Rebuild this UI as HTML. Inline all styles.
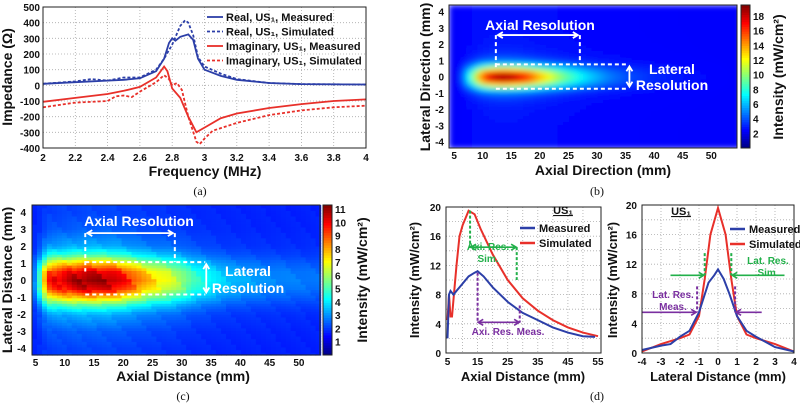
<!DOCTYPE html>
<html><head><meta charset="utf-8"><style>
body{margin:0;background:#fff}
svg{display:block;font-family:"Liberation Sans",sans-serif}
.t{font-size:10px;font-weight:bold;fill:#111}
.ti{font-size:14px;font-weight:bold;fill:#111}
.cap{font-family:"Liberation Serif",serif;font-size:12px;fill:#111}
</style></head><body>
<svg id="s" width="800" height="405" viewBox="0 0 800 405">
<defs><filter id="bl" x="-5%" y="-5%" width="110%" height="110%"><feGaussianBlur stdDeviation="3"/></filter>
<clipPath id="cb"><rect x="449" y="5" width="288" height="143"/></clipPath></defs>
</svg>
<script>
// ---- data panel (a)
const aRealMeasX=[2,2.2,2.4,2.5,2.6,2.7,2.75,2.78,2.8,2.82,2.85,2.9,2.93,2.96,3.0,3.1,3.2,3.4,3.6,4];
const aRealMeasY=[10,20,30,35,45,90,170,270,300,285,310,325,290,170,100,60,35,15,8,5];
const aRealSimX=[2,2.2,2.3,2.4,2.5,2.6,2.7,2.75,2.8,2.85,2.88,2.9,2.93,2.96,3.0,3.1,3.2,3.4,3.6,4];
const aRealSimY=[10,25,40,30,50,50,100,170,260,380,415,400,320,180,120,75,40,15,8,5];
const aImMeasX=[2,2.2,2.4,2.45,2.5,2.6,2.7,2.75,2.77,2.8,2.85,2.9,2.95,3.0,3.1,3.2,3.4,3.6,3.8,4];
const aImMeasY=[-105,-80,-55,-45,-35,-10,50,120,90,-20,-80,-200,-300,-270,-210,-180,-145,-120,-100,-90];
const aImSimX=[2,2.2,2.4,2.45,2.5,2.55,2.6,2.7,2.75,2.78,2.8,2.83,2.86,2.9,2.95,2.97,3.0,3.05,3.2,3.4,3.6,3.8,4];
const aImSimY=[-140,-110,-100,-70,-65,-75,-40,20,65,40,0,15,-30,-200,-360,-375,-340,-290,-240,-190,-160,-140,-130];
const aXTicks=[2,2.2,2.4,2.6,2.8,3,3.2,3.4,3.6,3.8,4];
const aYTicks=[500,400,300,200,100,0,-100,-200,-300,-400];
// ---- data panel (d)
const dAxX=[5,5.5,6,7,8,10,12,14,15,17,20,25,30,35,40,45,50,54];
const dAxMeas=[2,8,8.5,8,8.5,9.5,10.5,11,11.2,10.5,9,7,5.5,4.5,3.5,2.8,2.3,2.2];
const dAxSimX=[5,5.5,6,6.5,8,9,10,12,14,16,20,25,30,35,40,45,50,55];
const dAxSim=[4.5,8,5,5,12,16,17.5,19.5,19,17,13.5,10,7.5,5.8,4.5,3.5,2.8,2.3];
const dLatMX=[-4,-3,-2.5,-2,-1.5,-1,-0.5,-0.2,0,0.3,0.6,1,1.5,2,2.5,3,4];
const dLatMeas=[0.4,1,1.2,2.2,3,5.5,9.5,10.5,11.3,10,8,5,3,2.2,1.5,0.8,0.2];
const dLatSX=[-4,-3,-2,-1.5,-1,-0.7,-0.4,0,0.4,0.7,1,1.5,2,3,4];
const dLatSim=[0.2,1.2,2,2.5,5,10,16,19.6,16,10,5,2.5,2,1.2,0.2];
const dAxTicks=[5,15,25,35,45,55];
const dLatTicks=[-4,-3,-2,-1,0,1,2,3,4];
const dYTicks=[0,4,8,12,16,20];
// ---- heatmap data
const bAxialMM=[4,6,8,10,12,14,16,18,20,22,24,26,28,30,32,34,36,40,45,50,54];
const bAxialVal=[2,2.5,9,16,19,19.5,18.5,16.5,14,12,10,8.5,7,6,5,4.4,3.9,3.3,2.8,2.5,2.4];
const bLatMM=[-4,-3,-2,-1.5,-1,-0.75,-0.5,-0.25,0,0.25,0.5,0.75,1,1.5,2,3,4];
const bLatVal=[0.02,0.02,0.03,0.05,0.12,0.3,0.6,0.9,1,0.9,0.6,0.3,0.12,0.05,0.03,0.02,0.02];
const cAxialMM=[5,6,7,8,10,12,14,16,18,20,22,24,26,28,30,32,34,36,38,40,45,50,53];
const cAxialVal=[3,6,9.5,10,10.5,11,11.2,11,10.8,10,9,8,7.3,6.8,6,5,4.5,4,3.6,3.4,3,2.8,2.7];
const cLatMM=[-4,-3,-2,-1.5,-1,-0.5,0,0.5,1,1.5,2,3,4];
const cLatVal=[0.05,0.08,0.18,0.35,0.65,0.92,1,0.92,0.65,0.35,0.18,0.08,0.05];

const S=document.getElementById('s'),NS='http://www.w3.org/2000/svg';
function el(tag,at,parent){const e=document.createElementNS(NS,tag);for(const k in at)e.setAttribute(k,at[k]);(parent||S).appendChild(e);return e;}
function tx(x,y,str,cls,anchor,name,extra){const e=el('text',Object.assign({x:x,y:y,class:cls,'text-anchor':anchor||'middle'},extra||{}));e.textContent=str;return e;}
function lin(d0,d1,r0,r1){return v=>r0+(v-d0)*(r1-r0)/(d1-d0);}
function interp(xs,ys,x){if(x<=xs[0])return ys[0];for(let i=1;i<xs.length;i++)if(x<=xs[i]){const t=(x-xs[i-1])/(xs[i]-xs[i-1]);return ys[i-1]+t*(ys[i]-ys[i-1]);}return ys[ys.length-1];}
function jet(t){t=Math.max(0,Math.min(1,t));const c=v=>Math.round(255*Math.max(0,Math.min(1,v)));return `rgb(${c(1.5-Math.abs(4*t-3))},${c(1.5-Math.abs(4*t-2))},${c(1.5-Math.abs(4*t-1))})`;}
function line(xs,ys,X,Y,color,dash,name,w){const d=xs.map((x,i)=>(i?'L':'M')+X(x).toFixed(1)+','+Y(ys[i]).toFixed(1)).join('');const p=el('path',{d:d,fill:'none',stroke:color,'stroke-width':w||1.8,'stroke-dasharray':dash||'none'});return p;}
function frame(x0,y0,x1,y1,name){const r=el('rect',{x:x0,y:y0,width:x1-x0,height:y1-y0,fill:'none',stroke:'#222','stroke-width':1});}
function grid(xt,yt,X,Y,x0,y0,x1,y1){xt.forEach(v=>{const g=el('line',{x1:X(v),x2:X(v),y1:y0,y2:y1,stroke:'#aaa','stroke-dasharray':'1,2','stroke-width':0.8});});yt.forEach(v=>{const g=el('line',{x1:x0,x2:x1,y1:Y(v),y2:Y(v),stroke:'#aaa','stroke-dasharray':'1,2','stroke-width':0.8});});}
function vtitle(x,y,str,name,size){const e=tx(x,y,str,'ti','middle',name,{transform:`rotate(-90 ${x} ${y})`});if(size)e.style.fontSize=size+'px';return e;}

// ===== Panel (a)
{const X=lin(2,4,43,366),Y=lin(500,-400,7,148);
grid([2.2,2.4,2.6,2.8,3,3.2,3.4,3.6,3.8],[400,300,200,100,0,-100,-200,-300],X,Y,43,7,366,148);
line(aImSimX,aImSimY,X,Y,'#e8302a','3,2','imag-simulated-line');
line(aImMeasX,aImMeasY,X,Y,'#e8302a',null,'imag-measured-line');
line(aRealSimX,aRealSimY,X,Y,'#2c3fa8','3,2','real-simulated-line');
line(aRealMeasX,aRealMeasY,X,Y,'#2c3fa8',null,'real-measured-line');
frame(43,7,366,148,'plot-a-frame');
aXTicks.forEach(v=>tx(X(v),161,String(v),'t','middle','x-tick-a'));
aYTicks.forEach(v=>tx(40,Y(v)+4,String(v),'t','end','y-tick-a'));
tx(205,176,'Frequency (MHz)','ti','middle','x-axis-title-a');
vtitle(12,77,'Impedance (Ω)','y-axis-title-a');
const leg=[['Real, US','₁, Measured','#2c3fa8',null],['Real, US','₁, Simulated','#2c3fa8','3,2'],['Imaginary, US','₁, Measured','#e8302a',null],['Imaginary, US','₁, Simulated','#e8302a','3,2']];
leg.forEach((l,i)=>{const y=17+i*14.5;const ln=el('line',{x1:207,x2:223,y1:y,y2:y,stroke:l[2],'stroke-width':1.8,'stroke-dasharray':l[3]||'none'});const t=tx(226,y+4,l[0]+l[1],'t','start','legend-entry');t.style.fontSize='11px';});
tx(200,195,'(a)','cap','middle','caption-a');}

// ===== heatmap helper
function heat(axMM,axV,latMM,latV,x0,x1,dmin,dmax,y0,y1,stepX,stepY,vmax,floor,blur,name){
 const X=lin(dmin,dmax,x0,x1),Y=lin(4.4,-4.4,y0,y1);const g=el('g',blur?{filter:'url(#bl)','clip-path':'url(#cb)'}:{});
 for(let a=dmin;a<dmax;a+=stepX){for(let l=-4.4;l<4.4;l+=stepY){const va=interp(axMM,axV,a+stepX/2),vl=interp(latMM,latV,l+stepY/2);
  let v=floor+(va-floor)*vl; if(!blur) v*= (0.96+0.08*(((a*7.3+l*13.1)%1+1)%1));
  const r=el('rect',{x:X(a).toFixed(1),y:Y(l+stepY).toFixed(1),width:(Math.abs(X(a+stepX)-X(a))+0.6).toFixed(1),height:(Math.abs(Y(l)-Y(l+stepY))+0.6).toFixed(1),fill:jet(v/vmax)},g);
  }}
 return {X,Y};}
function colorbar(x,y0,y1,vmax,ticks,name){for(let i=0;i<60;i++){const r=el('rect',{x:x,y:y1-(i+1)*(y1-y0)/60,width:9,height:(y1-y0)/60+0.5,fill:jet((i+0.5)/60)});}
 frame(x,y0,x+9,y1,name+'-frame');const Y=lin(0,vmax,y1,y0);ticks.forEach(v=>tx(x+12,Y(v)+4,String(v),'t','start','colorbar-tick'));}
function annot(X,Y,a0,a1,l0,l1,arrowY,latRight){const w='#fff';const ds='4,3';
 const segs=[[a0,arrowY,a0,0.5],[a1,arrowY,a1,l1],[a0,l1,latRight,l1],[a0,l0,latRight,l0]];
 segs.forEach(s=>{const e=el('line',{x1:X(s[0]),y1:Y(s[1]),x2:X(s[2]),y2:Y(s[3]),stroke:w,'stroke-width':2,'stroke-dasharray':ds});});
 const ay=Y(arrowY);const e1=el('path',{d:`M${X(a0)+2},${ay}L${X(a1)-2},${ay}M${X(a0)+7},${ay-3}L${X(a0)+2},${ay}L${X(a0)+7},${ay+3}M${X(a1)-7},${ay-3}L${X(a1)-2},${ay}L${X(a1)-7},${ay+3}`,stroke:w,'stroke-width':1.8,fill:'none'});
 const ax=X(latRight)+1;const e2=el('path',{d:`M${ax},${Y(l1)+2}L${ax},${Y(l0)-2}M${ax-3},${Y(l1)+7}L${ax},${Y(l1)+2}L${ax+3},${Y(l1)+7}M${ax-3},${Y(l0)-7}L${ax},${Y(l0)-2}L${ax+3},${Y(l0)-7}`,stroke:w,'stroke-width':1.8,fill:'none'});}

// ===== Panel (b)
{const H=heat(bAxialMM,bAxialVal,bLatMM,bLatVal,449,737,4.1,54.5,5,148,1,0.2,19.5,2.4,true,'heatmap-b');
 frame(449,5,737,148,'plot-b-frame');
 annot(H.X,H.Y,12.3,27,-0.75,0.75,2.55,35.5);
 tx(540,30,'Axial Resolution','ti','middle','axial-resolution-label-b').style.fill='#fff';
 tx(672,74,'Lateral','ti','middle','lateral-label-b').style.fill='#fff';
 tx(672,90,'Resolution','ti','middle','resolution-label-b').style.fill='#fff';
 [5,10,15,20,25,30,35,40,45,50].forEach(v=>tx(H.X(v),159,String(v),'t','middle','x-tick-b'));
 [4,3,2,1,0,-1,-2,-3,-4].forEach(v=>tx(444,H.Y(v)+4,String(v),'t','end','y-tick-b'));
 tx(603,175,'Axial Direction (mm)','ti','middle','x-axis-title-b');
 vtitle(430,77,'Lateral Direction (mm)','y-axis-title-b');
 colorbar(741,5,148,19.5,[2,4,6,8,10,12,14,16,18],'colorbar-b');
 vtitle(783,77,'Intensity (mW/cm²)','colorbar-title-b');
 tx(597,195,'(b)','cap','middle','caption-b');}

// ===== Panel (c)
{const H=heat(cAxialMM,cAxialVal,cLatMM,cLatVal,32,320,4.4,53.6,205,355,0.85,0.16,11.3,1.7,false,'heatmap-c');
 frame(32,205,320,355,'plot-c-frame');
 annot(H.X,H.Y,13.5,28.8,-0.85,1.05,2.75,34);
 tx(139,226,'Axial Resolution','ti','middle','axial-resolution-label-c').style.fill='#fff';
 tx(248,276,'Lateral','ti','middle','lateral-label-c').style.fill='#fff';
 tx(248,293,'Resolution','ti','middle','resolution-label-c').style.fill='#fff';
 [5,10,15,20,25,30,35,40,45,50].forEach(v=>tx(H.X(v),366,String(v),'t','middle','x-tick-c'));
 [4,3,2,1,0,-1,-2,-3,-4].forEach(v=>tx(26,H.Y(v)+4,String(v),'t','end','y-tick-c'));
 tx(183,381,'Axial Distance (mm)','ti','middle','x-axis-title-c');
 vtitle(12,280,'Lateral Distance (mm)','y-axis-title-c');
 colorbar(323,205,355,11.3,[1,2,3,4,5,6,7,8,9,10,11],'colorbar-c');
 vtitle(367,280,'Intensity (mW/cm²)','colorbar-title-c');
 tx(183,400,'(c)','cap','middle','caption-c');}

// ===== Panel (d) left
function darrow(X,Y,x0,x1,y,col,name){const a=X(x0),b=X(x1),yy=Y(y);const p=el('path',{d:`M${a},${yy}L${b},${yy}M${a+5},${yy-3}L${a},${yy}L${a+5},${yy+3}M${b-5},${yy-3}L${b},${yy}L${b-5},${yy+3}`,stroke:col,'stroke-width':1.6,fill:'none'});}
function oarrow(X,Y,from,to,y,col,name){const a=X(from),b=X(to),yy=Y(y),s=b>a?-5:5;const p=el('path',{d:`M${a},${yy}L${b},${yy}M${b+s},${yy-3}L${b},${yy}L${b+s},${yy+3}`,stroke:col,'stroke-width':1.6,fill:'none'});}
function vdash(X,Y,x,y0,y1,col){const e=el('line',{x1:X(x),x2:X(x),y1:Y(y0),y2:Y(y1),stroke:col,'stroke-width':2,'stroke-dasharray':'3,2'});}
const GR='#22b04a',PU='#7a2fa0';
function legendD(x,y,usx){const u=tx(usx,y,'US₁','t','middle','legend-title');u.style.fontSize='11px';u.setAttribute('text-decoration','underline');
 [['Measured','#2c3fa8'],['Simulated','#e8302a']].forEach((l,i)=>{const yy=y+14+i*15;const ln=el('line',{x1:x,x2:x+15,y1:yy,y2:yy,stroke:l[1],'stroke-width':2.5});const t=tx(x+19,yy+4,l[0],'t','start','legend-entry');t.style.fontSize='11px';});}
{const X=lin(4.5,56,446,601),Y=lin(0,20,353,207);
 grid([10,15,20,25,30,35,40,45,50],[2,4,6,8,10,12,14,16,18],X,Y,446,207,601,353);
 line(dAxSimX,dAxSim,X,Y,'#e8302a',null,'axial-simulated-line',2);
 line(dAxX,dAxMeas,X,Y,'#2c3fa8',null,'axial-measured-line',2);
 vdash(X,Y,12.5,19.5,14.5,GR);vdash(X,Y,28,14.5,10,GR);darrow(X,Y,12.8,27.8,14.5,GR,'axial-res-sim-arrow');
 vdash(X,Y,15,11,4.2,PU);vdash(X,Y,29,6.5,4.2,PU);darrow(X,Y,15.2,28.8,4.2,PU,'axial-res-meas-arrow');
 tx(488,250,'Axi. Res.','t','middle','axi-res-sim-label').style.fill=GR;
 tx(488,262,'Sim.','t','middle','axi-res-sim-label2').style.fill=GR;
 tx(508,335,'Axi. Res. Meas.','t','middle','axi-res-meas-label').style.fill=PU;
 frame(446,207,601,353,'plot-d-left-frame');
 legendD(520,214,563);
 dAxTicks.forEach(v=>tx(X(v),365,String(v),'t','middle','x-tick-d-left'));
 dYTicks.forEach(v=>tx(441,Y(v)+4,String(v),'t','end','y-tick-d-left'));
 tx(523,381,'Axial Distance (mm)','ti','middle','x-axis-title-d-left').style.fontSize='13px';
 vtitle(419,280,'Intensity (mW/cm²)','y-axis-title-d-left',13);}
// ===== Panel (d) right
{const X=lin(-4,4,642,794),Y=lin(0,20,353,205);
 grid(dLatTicks,[2,4,6,8,10,12,14,16,18],X,Y,642,205,794,353);
 line(dLatSX,dLatSim,X,Y,'#e8302a',null,'lateral-simulated-line',2);
 line(dLatMX,dLatMeas,X,Y,'#2c3fa8',null,'lateral-measured-line',2);
 vdash(X,Y,-0.7,13.5,10.5,GR);vdash(X,Y,0.7,13.5,10.5,GR);
 oarrow(X,Y,-2.5,-0.75,10.5,GR,'lat-res-sim-arrow-left');oarrow(X,Y,3.5,0.75,10.5,GR,'lat-res-sim-arrow-right');
 vdash(X,Y,-1.1,9,5.5,PU);vdash(X,Y,0.9,9,5.5,PU);
 oarrow(X,Y,-4,-1.15,5.5,PU,'lat-res-meas-arrow-left');oarrow(X,Y,2.3,0.95,5.5,PU,'lat-res-meas-arrow-right');
 tx(768,264,'Lat. Res.','t','middle','lat-res-sim-label').style.fill=GR;
 tx(768,276,'Sim.','t','middle','lat-res-sim-label2').style.fill=GR;
 tx(673,298,'Lat. Res.','t','middle','lat-res-meas-label').style.fill=PU;
 tx(673,310,'Meas.','t','middle','lat-res-meas-label2').style.fill=PU;
 frame(642,205,794,353,'plot-d-right-frame');
 legendD(730,215,681);
 dLatTicks.forEach(v=>tx(X(v),365,String(v),'t','middle','x-tick-d-right'));
 dYTicks.forEach(v=>tx(637,Y(v)+4,String(v),'t','end','y-tick-d-right'));
 tx(718,381,'Lateral Distance (mm)','ti','middle','x-axis-title-d-right').style.fontSize='13px';
 vtitle(617,280,'Intensity (mW/cm²)','y-axis-title-d-right',13);
 tx(597,400,'(d)','cap','middle','caption-d');}
</script>
</body></html>
